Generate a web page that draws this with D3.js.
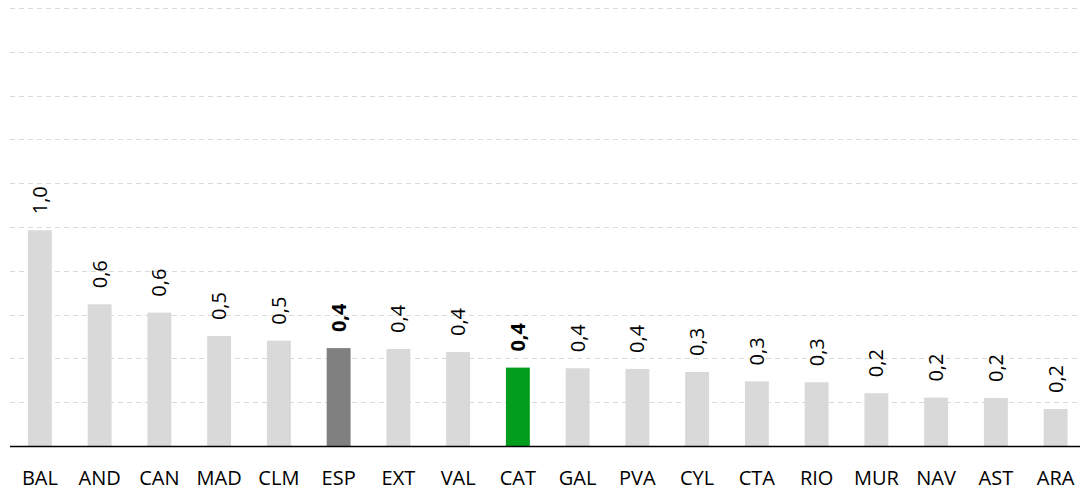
<!DOCTYPE html>
<html>
<head>
<meta charset="utf-8">
<script src="https://cdn.jsdelivr.net/npm/d3@7"></script>
<style>
  html, body { margin: 0; padding: 0; background: #fff; }
  svg { display: block; }
  text { font-family: "Open Sans", "Noto Sans", sans-serif; fill: #000; }
</style>
</head>
<body>
<svg id="chart" width="1080" height="490"></svg>
<script>
const categories = ["BAL","AND","CAN","MAD","CLM","ESP","EXT","VAL","CAT","GAL","PVA","CYL","CTA","RIO","MUR","NAV","AST","ARA"];
const values = [0.985,0.647,0.609,0.502,0.481,0.447,0.443,0.429,0.358,0.355,0.352,0.338,0.295,0.291,0.241,0.221,0.219,0.169];
const valueLabels = ["1,0","0,6","0,6","0,5","0,5","0,4","0,4","0,4","0,4","0,4","0,4","0,3","0,3","0,3","0,2","0,2","0,2","0,2"];
const gridTicks = [0.2,0.4,0.6,0.8,1.0,1.2,1.4,1.6,1.8,2.0];
const highlightGrey = ["ESP"];
const highlightGreen = ["CAT"];

const svg = d3.select("#chart");
const x = d3.scaleBand().domain(categories).range([10, 1085.5]).paddingInner(0.6).paddingOuter(0.3);
const y = d3.scaleLinear().domain([0, 2.0]).range([446, 8]);

// gridlines
svg.append("g").selectAll("line").data(gridTicks).join("line")
  .attr("x1", 10).attr("x2", 1080)
  .attr("y1", d => Math.round(y(d)) + 0.5).attr("y2", d => Math.round(y(d)) + 0.5)
  .attr("stroke", "#d9d9d9").attr("stroke-width", 1.2).attr("stroke-dasharray", "5,4");

const data = categories.map((c, i) => ({c, v: values[i], l: valueLabels[i]}));
const color = d => highlightGreen.includes(d.c) ? "#009e1c" : highlightGrey.includes(d.c) ? "#808080" : "#d9d9d9";

svg.append("g").selectAll("rect").data(data).join("rect")
  .attr("x", d => x(d.c)).attr("width", x.bandwidth())
  .attr("y", d => y(d.v)).attr("height", d => y(0) - y(d.v))
  .attr("fill", color);

// baseline axis
const xAxis = d3.axisBottom(x).tickSize(0).tickPadding(0);
const ax = svg.append("g").attr("transform", `translate(0,${y(0)})`).call(xAxis);
ax.select(".domain").attr("d", "M10,0.5H1080").attr("stroke", "#000").attr("stroke-width", 1.6);
ax.selectAll(".tick text").attr("y", 39).attr("dy", 0)
  .style("font-family", '"Open Sans", sans-serif').style("font-size", "20px").attr("fill", "#000");

// value labels
svg.append("g").selectAll("text").data(data).join("text")
  .attr("transform", d => `translate(${x(d.c) + x.bandwidth()/2},${y(d.v) - 16}) rotate(-90)`)
  .attr("dy", "0.35em")
  .attr("text-anchor", "start")
  .style("font-size", "20px")
  .style("font-weight", d => (highlightGrey.includes(d.c) || highlightGreen.includes(d.c)) ? "bold" : "normal")
  .text(d => d.l);
</script>
</body>
</html>
